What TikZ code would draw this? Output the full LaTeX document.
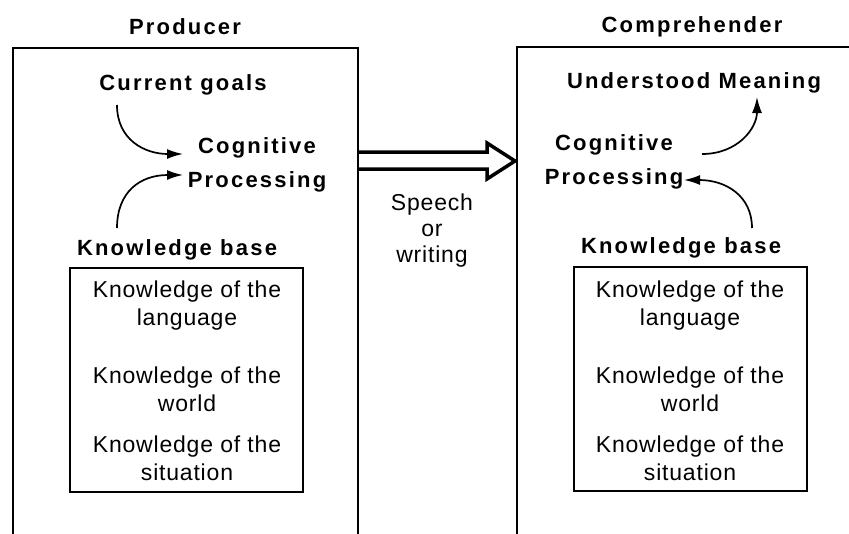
\documentclass[tikz,border=0pt]{standalone}
\usepackage{fontspec}
\setmainfont{Liberation Sans}
\newfontfamily\ttlfont[LetterSpace=10]{Liberation Sans}
\newfontfamily\bdyfont[LetterSpace=3.5]{Liberation Sans}
\usetikzlibrary{arrows.meta}
\begin{document}
\begin{tikzpicture}[x=1pt,y=-1pt,
  ttl/.style={font=\ttlfont\bfseries\fontsize{22}{34}\selectfont, inner sep=0pt, align=center},
  bdy/.style={font=\bdyfont\fontsize{23}{28}\selectfont, inner sep=0pt, align=center},
  frame/.style={line width=2pt},
  kbox/.style={draw, line width=2pt, minimum width=233pt, minimum height=224pt, inner sep=0pt},
  arr/.style={line width=1.7pt, -{Latex[length=16pt,width=10pt]}},
  big/.style={line width=3.5pt, miter limit=10, line join=miter}]
\useasboundingbox (0,0) rectangle (849,533);
% titles
\node[ttl] (prod) at (185,27) {Producer};
\node[ttl] (comp) at (692,27) {Comprehender};
% outer frames
\coordinate (Lbl) at (13,545);
\coordinate (Ltl) at (13,48);
\coordinate (Ltr) at (358,48);
\coordinate (Lbr) at (358,545);
\draw[frame] (Lbl) -- (Ltl) -- (Ltr) -- (Lbr);
\coordinate (Rbl) at (517,545);
\coordinate (Rtl) at (517,47);
\coordinate (Rtr) at (860,47);
\draw[frame] (Rbl) -- (Rtl) -- (Rtr);
% hollow arrow
\coordinate (hs1) at (358,152);
\coordinate (hs2) at (358,169);
\coordinate (htip) at (515,161);
\draw[big] (hs1) -- (487,152) -- (487,143) -- (htip) -- (487,179) -- (487,169) -- (hs2);
\node[bdy, font=\bdyfont\fontsize{23}{26}\selectfont] (sw) at (432,231) {Speech\\or\\writing};
% producer
\node[ttl] (cgL) at (183,85) {Current goals};
\node[ttl] (cpL) at (257,165) {Cognitive\\Processing};
\node[ttl] (kbL) at (177,250) {Knowledge base};
\node[kbox] (boxL) at (186.5,380) {};
\node[bdy] (l1) at (187,306) {Knowledge of the\\language};
\node[bdy] (l2) at (187,389) {Knowledge of the\\world};
\node[bdy] (l3) at (187,458) {Knowledge of the\\situation};
\coordinate (a1s) at (117,105);
\coordinate (a1e) at (183,154);
\coordinate (a2s) at (117,228);
\coordinate (a2e) at (183,175);
\draw[arr] (a1s) .. controls (117,140) and (145,154) .. (a1e);
\draw[arr] (a2s) .. controls (117,192) and (140,175) .. (a2e);
% comprehender
\node[ttl] (umR) at (694,83) {Understood Meaning};
\node[ttl] (cpR) at (614,162) {Cognitive\\Processing};
\node[ttl] (kbR) at (681,248) {Knowledge base};
\node[kbox] (boxR) at (690.5,379) {};
\node[bdy] (r1) at (690,306) {Knowledge of the\\language};
\node[bdy] (r2) at (690,389) {Knowledge of the\\world};
\node[bdy] (r3) at (690,458) {Knowledge of the\\situation};
\coordinate (b1s) at (702,154);
\coordinate (b1e) at (757,97);
\coordinate (b2s) at (752,228);
\coordinate (b2e) at (684,180);
\draw[arr] (b1s) .. controls (738,154) and (757,128) .. (b1e);
\draw[arr] (b2s) .. controls (752,196) and (726,180) .. (b2e);
\end{tikzpicture}
\end{document}
